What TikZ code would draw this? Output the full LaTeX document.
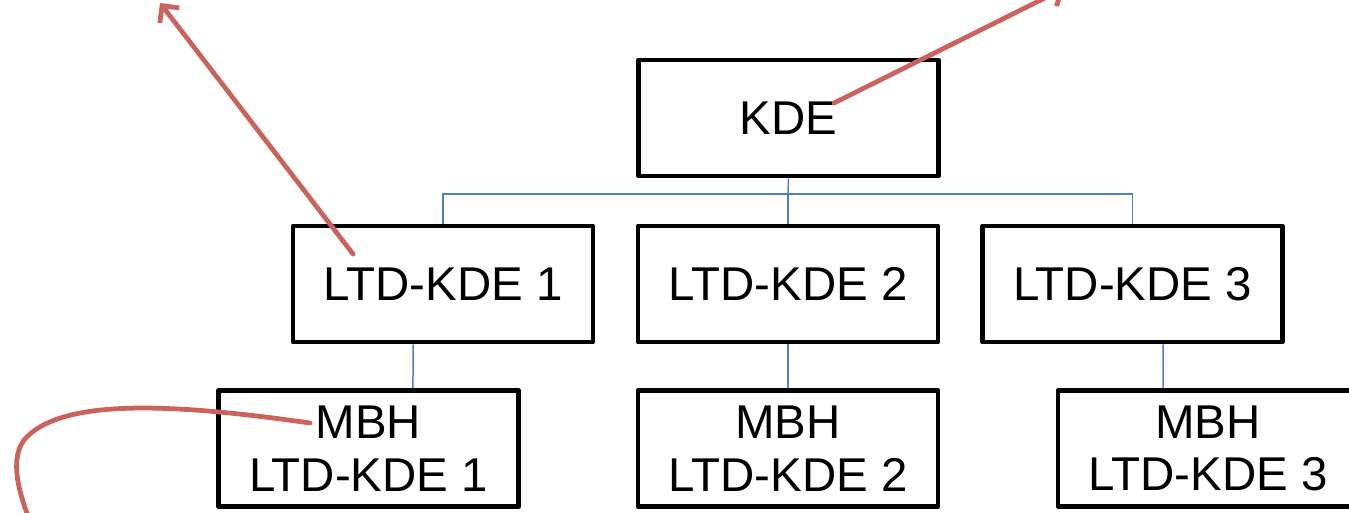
\documentclass[tikz,border=0pt]{standalone}
\usepackage{fontspec}
\setmainfont{Liberation Sans}
\usetikzlibrary{arrows.meta}
\definecolor{callout}{RGB}{204,98,92}
\definecolor{link}{RGB}{79,129,189}

\begin{document}
\begin{tikzpicture}[x=0.02cm, y=-0.02cm,
    box/.style={draw=black, line width=0.095cm, line join=round, minimum width=6cm, minimum height=2.32cm, align=center, inner sep=0pt, font=\fontsize{27}{30}\selectfont},
    conn/.style={link, line width=0.03cm},
    pointer/.style={callout, line width=0.095cm, line cap=round, -{Straight Barb[length=7pt,width=14pt]}}]

    \useasboundingbox (0,0) rectangle (1349,512);
    \clip (0,0) rectangle (1349,512);

    % top level
    \node[box] (kde) at (788.5,118) {KDE};

    % second level
    \node[box] (ltd1) at (443,284) {LTD-KDE 1};
    \node[box] (ltd2) at (788,284) {LTD-KDE 2};
    \node[box] (ltd3) at (1132.5,284) {LTD-KDE 3};

    % third level
    \node[box] (mbh1) at (368.5,448.5) {MBH\\LTD-KDE 1};
    \node[box] (mbh2) at (788,448.5) {MBH\\LTD-KDE 2};
    \node[box] (mbh3) at (1208,448.5) {MBH\\LTD-KDE 3};

    % blue tree lines
    \coordinate (bus) at (788,194);
    \draw[conn] (kde.south) -- (bus);
    \draw[conn] (ltd1.north) |- (bus) -| (ltd3.north);
    \draw[conn] (bus) -- (ltd2.north);
    \draw[conn] ([xshift=-0.6cm]ltd1.south) -- ([xshift=0.89cm]mbh1.north);
    \draw[conn] (ltd2.south) -- (mbh2.north);
    \draw[conn] ([xshift=0.61cm]ltd3.south) -- ([xshift=-0.9cm]mbh3.north);

    % red pointers
    \coordinate (tailA) at (353,254);
    \coordinate (tipA) at (160,3);
    \coordinate (tailB) at (834,103);
    \coordinate (tipB) at (1065,-12);
    \coordinate (tailC) at (310,423);
    \coordinate (tipC) at (42,550);
    \draw[pointer] (tailA) -- (tipA);
    \draw[pointer] (tailB) -- (tipB);
    \draw[pointer] (tailC) .. controls (170,403) and (60,398) .. (24,440)
                           .. controls (8,462) and (20,500) .. (tipC);

\end{tikzpicture}
\end{document}
